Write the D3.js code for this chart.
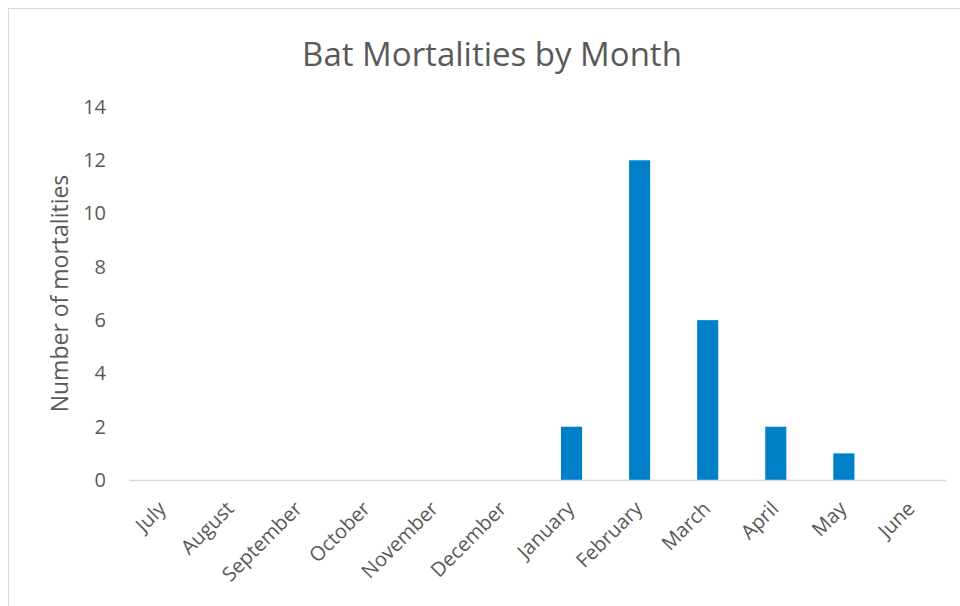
<!DOCTYPE html>
<html>
<head>
<meta charset="utf-8">
<script src="https://cdn.jsdelivr.net/npm/d3@7"></script>
<style>
  body { margin: 0; background: #fff; }
  text { font-family: "Open Sans", sans-serif; fill: #595959; }
</style>
</head>
<body>
<div id="chart"></div>
<script>
const months = ["July", "August", "September", "October", "November", "December",
  "January", "February", "March", "April", "May", "June"];
const mortalities = [0, 0, 0, 0, 0, 0, 2, 12, 6, 2, 1, 0];
const yTicks = [0, 2, 4, 6, 8, 10, 12, 14];

let margin = { top: 107, right: 14, bottom: 126, left: 129 },
  width = 960 - margin.left - margin.right,
  height = 606 - margin.top - margin.bottom;

let root = d3.select("#chart")
  .append("svg")
  .attr("width", 960)
  .attr("height", 606);

// chart frame
root.append("rect")
  .attr("x", 8.5).attr("y", 8.5)
  .attr("width", 1000).attr("height", 700)
  .attr("fill", "none")
  .attr("stroke", "#d9d9d9")
  .attr("stroke-width", 1);

root.append("text")
  .attr("x", 492)
  .attr("y", 66)
  .style("text-anchor", "middle")
  .style("font-size", "33px")
  .text("Bat Mortalities by Month");

let svg = root.append("g")
  .attr("transform", "translate(" + margin.left + "," + margin.top + ")");

let x = d3.scaleBand()
  .domain(months)
  .range([0, width])
  .paddingInner(0.69)
  .paddingOuter(0.345);

let y = d3.scaleLinear()
  .domain([0, 14])
  .range([height, 0]);

let yAxis = svg.append("g")
  .call(d3.axisLeft(y).tickValues(yTicks).tickSize(0).tickPadding(23));
yAxis.select(".domain").remove();
yAxis.selectAll("text")
  .style("font-size", "20px")
  .attr("fill", "#595959");

svg.append("g")
  .selectAll("rect")
  .data(mortalities)
  .enter()
  .append("rect")
  .attr("x", (d, i) => x(months[i]))
  .attr("y", d => y(d))
  .attr("width", x.bandwidth())
  .attr("height", d => height - y(d))
  .attr("fill", "#0080c9");

let xAxis = svg.append("g")
  .attr("transform", "translate(0," + height + ")")
  .call(d3.axisBottom(x).tickSize(0).tickPadding(0));
xAxis.select(".domain")
  .attr("stroke", "#d9d9d9")
  .attr("stroke-width", 1.5);
xAxis.selectAll("text")
  .style("font-size", "20px")
  .attr("fill", "#595959")
  .style("text-anchor", "end")
  .attr("dy", null)
  .attr("transform", "translate(4,30) rotate(-45)");

svg.append("text")
  .attr("transform", "rotate(-90)")
  .attr("x", 0 - (height / 2) + 0)
  .attr("y", 68 - margin.left)
  .style("text-anchor", "middle")
  .style("font-size", "23px")
  .text("Number of mortalities");
</script>
</body>
</html>
